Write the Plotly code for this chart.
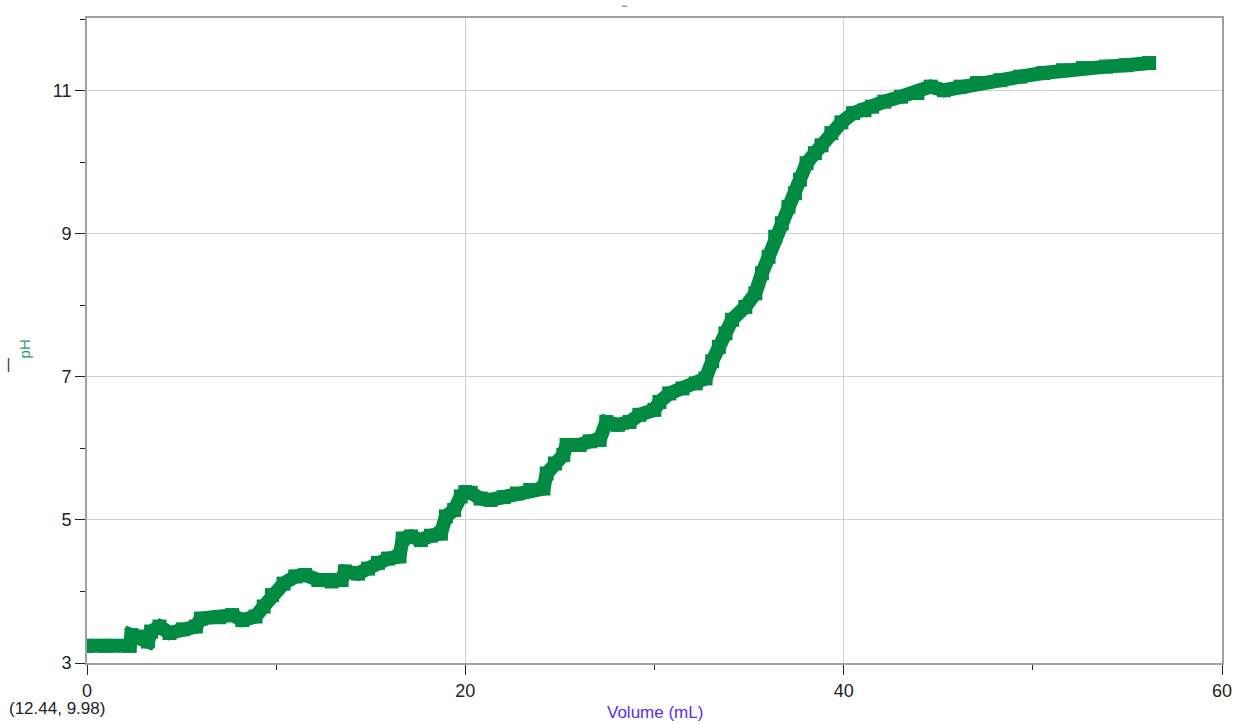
import plotly.graph_objects as go

volume_ml = [0.0, 1.0, 2.26, 2.35, 2.78, 3.22, 3.39, 3.83, 4.36, 5.06, 5.76, 6.02, 6.98, 7.68, 8.21, 8.91,
             9.34, 9.78, 10.39, 11.01, 11.53, 12.23, 12.93, 13.46, 13.63, 14.33, 14.86, 15.38, 15.91,
             16.52, 16.69, 17.13, 17.65, 18.18, 18.71, 18.97, 19.41, 19.76, 20.0, 20.28, 20.80, 21.33,
             22.03, 22.73, 23.43, 24.13, 24.30, 24.74, 25.18, 25.35, 26.05, 26.58, 27.10, 27.45, 28.06,
             28.68, 29.20, 29.99, 30.26, 30.78, 31.48, 32.18, 32.70, 33.05, 33.40, 33.75, 34.10, 34.80,
             35.33, 35.68, 36.03, 36.38, 36.73, 37.08, 37.43, 37.69, 38.04, 38.48, 38.83, 39.35, 39.88,
             40.50, 41.10, 41.50, 42.15, 43.03, 43.90, 44.60, 45.30, 46.18, 47.05, 48.28, 49.33, 50.55,
             51.60, 52.65, 53.87, 54.93, 56.15]
ph_values = [3.24, 3.24, 3.24, 3.39, 3.37, 3.30, 3.44, 3.51, 3.42, 3.47, 3.51, 3.62, 3.64, 3.67, 3.60, 3.65,
             3.79, 3.95, 4.11, 4.21, 4.23, 4.16, 4.14, 4.16, 4.28, 4.25, 4.32, 4.40, 4.46,
             4.49, 4.74, 4.77, 4.72, 4.78, 4.81, 5.05, 5.14, 5.33, 5.39, 5.38, 5.30, 5.28,
             5.32, 5.37, 5.42, 5.44, 5.65, 5.79, 5.91, 6.05, 6.05, 6.10, 6.12, 6.37, 6.33,
             6.37, 6.47, 6.54, 6.65, 6.77, 6.84, 6.91, 6.98, 7.22, 7.42, 7.61, 7.80, 7.98,
             8.17, 8.45, 8.68, 8.96, 9.15, 9.38, 9.57, 9.76, 9.99, 10.13, 10.24, 10.41, 10.56,
             10.69, 10.73, 10.78, 10.85, 10.92, 10.97, 11.06, 11.01, 11.06, 11.11, 11.15, 11.20, 11.25,
             11.29, 11.32, 11.34, 11.36, 11.39]

x_ticks = [0, 20, 40, 60]
y_ticks = [3, 5, 7, 9, 11]

green = "#008a42"
font_family = "Liberation Sans, Arial"

fig = go.Figure()
fig.add_trace(go.Scatter(
    x=volume_ml, y=ph_values, mode="lines+markers",
    line=dict(color=green, width=14),
    marker=dict(symbol="square", size=14, color=green),
    hoverinfo="skip", showlegend=False,
))

axis_common = dict(
    showline=True, linecolor="#a0a0a0", linewidth=2, mirror=True,
    showgrid=True, gridcolor="#d0d0d0", gridwidth=1,
    ticks="outside", ticklen=10, tickcolor="#222", tickwidth=1,
    zeroline=False,
    tickfont=dict(family=font_family, size=18, color="#222"),
)

fig.update_xaxes(range=[0, 60], tickvals=x_ticks, ticktext=[str(v) for v in x_ticks],
                 minor=dict(dtick=10, tick0=0, ticks="outside", ticklen=5, tickcolor="#222", showgrid=False),
                 **axis_common)
fig.update_yaxes(range=[3, 12.02], tickvals=y_ticks, ticktext=[str(v) for v in y_ticks],
                 minor=dict(dtick=1, tick0=3, ticks="outside", ticklen=5, tickcolor="#222", showgrid=False),
                 **axis_common)

# plot area: 1143 x 645 px, at left 87 / top 18
fig.add_annotation(text="Volume (mL)", xref="paper", yref="paper", x=0.5, xanchor="center",
                   y=-38 / 645, yanchor="top",
                   showarrow=False, font=dict(family=font_family, size=17, color="#5a2df0"))
fig.add_annotation(text="pH", xref="paper", yref="paper", x=-63 / 1143, xanchor="center",
                   y=(663 - 349) / 645, yanchor="middle", textangle=-90,
                   showarrow=False, font=dict(family=font_family, size=15, color="#1fa070"))
fig.add_annotation(text="(12.44, 9.98)", xref="paper", yref="paper", x=-81 / 1143, xanchor="left",
                   y=-34 / 645, yanchor="top",
                   showarrow=False, font=dict(family=font_family, size=17, color="#222"))
fig.add_annotation(text="▬", xref="paper", yref="paper", x=(628 - 87) / 1143, xanchor="center",
                   y=1 + 13 / 645, yanchor="middle",
                   showarrow=False, font=dict(family=font_family, size=5, color="#999"))
fig.add_shape(type="line", xref="paper", yref="paper",
              x0=-79 / 1143, x1=-79 / 1143, y0=(663 - 372) / 645, y1=(663 - 358) / 645,
              line=dict(color="#555", width=1.5))

fig.update_layout(
    width=1244, height=724, autosize=False,
    margin=dict(l=87, r=14, t=18, b=61),
    paper_bgcolor="white", plot_bgcolor="white",
)

fig.write_html("out.html",
               config={"responsive": False, "displayModeBar": False},
               post_script="document.body.style.margin='0';document.body.style.overflow='hidden';")
